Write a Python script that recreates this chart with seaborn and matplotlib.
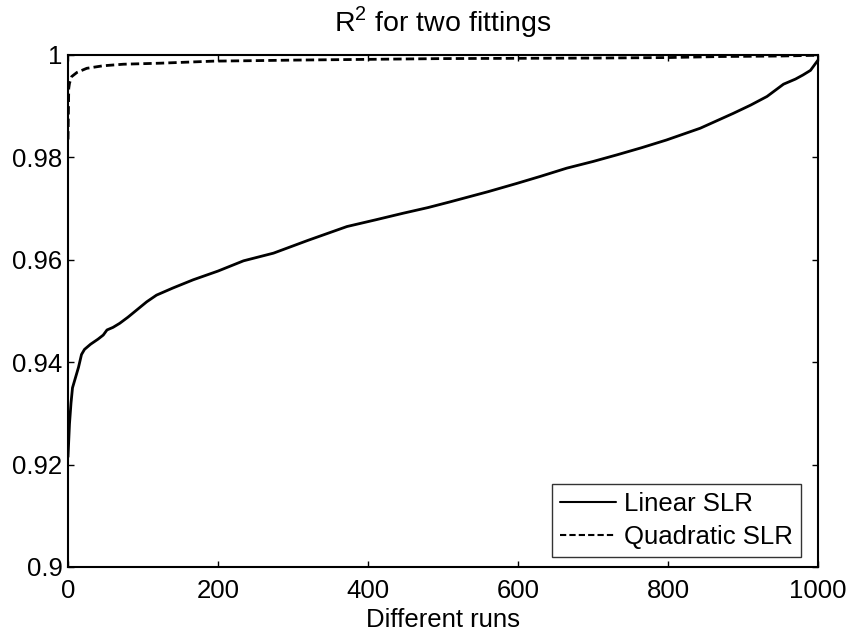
import numpy as np
import pandas as pd
import matplotlib
matplotlib.use("Agg")
import matplotlib.pyplot as plt
import seaborn as sns

# values (sorted R^2 over 1000 runs)
linear_runs = [0, 2, 4, 6, 10, 14, 18, 22, 30, 40, 47, 52, 60, 69, 80, 90, 105, 118,
               140, 167, 200, 234, 274, 320, 372, 410, 447, 480, 509, 560, 598, 630,
               665, 700, 732, 765, 798, 843, 887, 910, 932, 954, 970, 980, 990, 1000]
linear_r2 = [0.9215, 0.928, 0.932, 0.935, 0.937, 0.939, 0.9415, 0.9425, 0.9435, 0.9445,
             0.9453, 0.9463, 0.9468, 0.9476, 0.9488, 0.9500, 0.9518, 0.9531,
             0.9545, 0.9561, 0.9578, 0.9598, 0.9613, 0.9638, 0.9665, 0.9678, 0.9691,
             0.9702, 0.9713, 0.9733, 0.9749, 0.9763, 0.9779, 0.9792, 0.9805, 0.9819,
             0.9834, 0.9857, 0.9886, 0.9902, 0.9919, 0.9943, 0.9953, 0.9961, 0.9970, 0.9990]

quad_runs = [0, 1, 2, 5, 12, 25, 47, 74, 123, 194, 250, 300, 400, 500, 600, 700,
             800, 870, 950, 1000]
quad_r2 = [0.9835, 0.9935, 0.9945, 0.9958, 0.9966, 0.9974, 0.9979, 0.9982, 0.9984,
           0.9988, 0.9989, 0.9990, 0.99915, 0.9993, 0.99935, 0.9994, 0.9995, 0.9997,
           0.9998, 0.99995]

y_ticks = [0.9, 0.92, 0.94, 0.96, 0.98, 1.0]
y_tick_labels = ["0.9", "0.92", "0.94", "0.96", "0.98", "1"]
x_ticks = [0, 200, 400, 600, 800, 1000]

sns.set_style("ticks")
plt.rcParams["font.family"] = ["Liberation Sans", "DejaVu Sans"]
plt.rcParams["text.color"] = "black"
plt.rcParams["axes.labelcolor"] = "black"
plt.rcParams["mathtext.fontset"] = "custom"
plt.rcParams["mathtext.rm"] = "Liberation Sans"
fs = 18.5

df = pd.concat([
    pd.DataFrame({"run": linear_runs, "r2": linear_r2, "fit": "Linear SLR"}),
    pd.DataFrame({"run": quad_runs, "r2": quad_r2, "fit": "Quadratic SLR"}),
])

fig = plt.figure(figsize=(8.51, 6.36), dpi=100)
ax = fig.add_axes([68 / 851, 1 - 567 / 636, 750 / 851, 512 / 636])

sns.lineplot(data=df, x="run", y="r2", hue="fit", style="fit",
             palette=["black", "black"], dashes=[(None, None), (3, 1.5)],
             linewidth=2, ax=ax, legend=True)

ax.set_xlim(0, 1000)
ax.set_ylim(0.9, 1.0)
ax.set_xticks(x_ticks)
ax.set_xticklabels([str(v) for v in x_ticks])
ax.set_yticks(y_ticks)
ax.set_yticklabels(y_tick_labels)
ax.tick_params(direction="in", length=4, width=1, labelsize=fs, colors="black",
               top=True, right=True, pad=4)
ax.tick_params(axis="x", pad=9)
for sp in ax.spines.values():
    sp.set_visible(True)
    sp.set_linewidth(1.5)
    sp.set_color("black")

ax.set_xlabel("Different runs", fontsize=fs, labelpad=3)
ax.set_ylabel("")
ax.set_title(r"R$^{\mathregular{2}}$ for two fittings", fontsize=20.5, pad=17)

leg = ax.legend(loc="lower right", bbox_to_anchor=(0.977, 0.02), fontsize=fs,
                frameon=True, fancybox=False, handlelength=2.2, handletextpad=0.3,
                borderpad=0.3, labelspacing=0.35, borderaxespad=0)
leg.get_frame().set_edgecolor("black")
leg.get_frame().set_linewidth(1)
for h in leg.get_lines():
    h.set_linewidth(1.5)

fig.savefig("out.png", dpi=100)
